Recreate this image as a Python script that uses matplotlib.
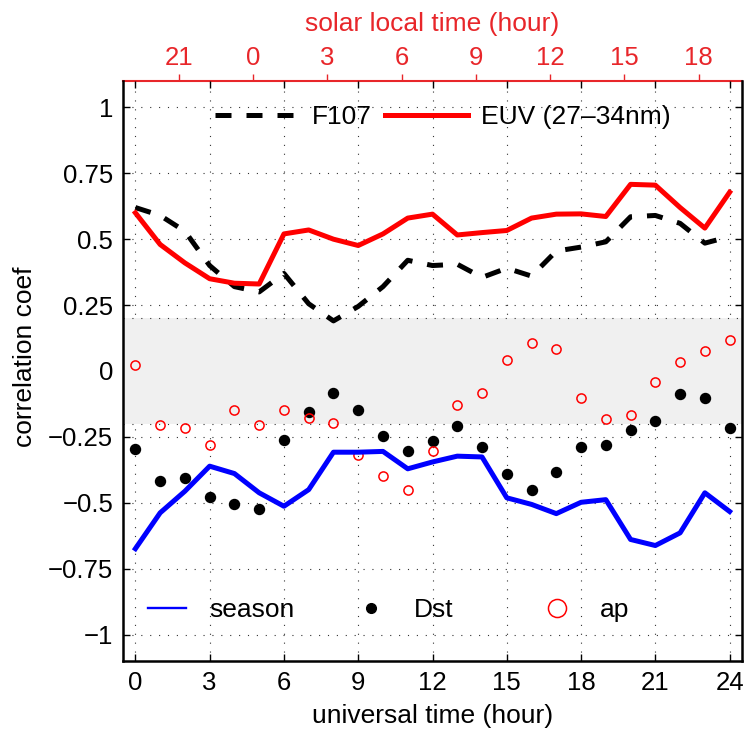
import numpy as np
import matplotlib
matplotlib.use("Agg")
import matplotlib.pyplot as plt
from matplotlib.lines import Line2D
from matplotlib.legend import Legend

plt.rcParams['font.family'] = ['Liberation Sans', 'DejaVu Sans']
FS = 18.5

# Universal time (hours) and correlation coefficients
ut = np.arange(25)
f107 = [0.62, 0.59, 0.53, 0.40, 0.32, 0.30, 0.37, 0.255, 0.19, 0.245, 0.32, 0.42, 0.40,
        0.405, 0.355, 0.39, 0.36, 0.455, 0.47, 0.49, 0.585, 0.59, 0.56, 0.485, 0.51]
euv = [0.60, 0.48, 0.41, 0.35, 0.333, 0.33, 0.52, 0.535, 0.50, 0.476, 0.52, 0.58, 0.595,
       0.516, 0.525, 0.533, 0.58, 0.595, 0.596, 0.586, 0.708, 0.705, 0.62, 0.542, 0.678]
season = [-0.674, -0.538, -0.456, -0.361, -0.389, -0.462, -0.513, -0.45, -0.308, -0.308,
          -0.305, -0.371, -0.345, -0.323, -0.326, -0.481, -0.506, -0.541, -0.498, -0.488,
          -0.639, -0.662, -0.614, -0.462, -0.533]
dst = [-0.295, -0.418, -0.405, -0.479, -0.503, -0.525, -0.26, -0.157, -0.083, -0.149,
       -0.248, -0.302, -0.267, -0.207, -0.289, -0.392, -0.453, -0.383, -0.289, -0.282,
       -0.222, -0.188, -0.089, -0.104, -0.216]
ap = [0.021, -0.205, -0.215, -0.282, -0.148, -0.205, -0.148, -0.177, -0.197, -0.317,
      -0.397, -0.45, -0.302, -0.130, -0.085, 0.043, 0.106, 0.083, -0.101, -0.182,
      -0.168, -0.04, 0.033, 0.074, 0.117]

ut_ticks = [0, 3, 6, 9, 12, 15, 18, 21, 24]
y_ticks = [-1, -0.75, -0.5, -0.25, 0, 0.25, 0.5, 0.75, 1]
y_labels = ['\u22121', '\u22120.75', '\u22120.5', '\u22120.25', '0', '0.25', '0.5', '0.75', '1']
slt_offset = -4.75          # solar local time = UT + offset
slt_ticks = [-3, 0, 3, 6, 9, 12, 15, 18]
slt_labels = ['21', '0', '3', '6', '9', '12', '15', '18']
band = 0.2

fig = plt.figure(figsize=(7.45, 7.36), dpi=100)
ax = fig.add_axes([123 / 745, 1 - 661 / 736, (742 - 123) / 745, (661 - 81) / 736])

ax.set_xlim(-0.5, 24.5)
ax.set_ylim(-1.1, 1.1)
ax.set_axisbelow(True)
ax.grid(True, color='#333333', linestyle=(0, (1, 7)), linewidth=0.8)

# insignificance band
ax.axhspan(-band, band, facecolor='#f0f0f0', edgecolor='none', zorder=1)
for yb in (-band, band):
    ax.axhline(yb, color='#333333', linestyle=(0, (1, 7)), linewidth=0.8, zorder=1.1)

ax.plot(ut, dst, 'o', color='k', markersize=7.2, zorder=3)
ax.plot(ut, ap, 'o', mfc='none', mec='red', mew=1.1, markersize=6.6, zorder=4)
ax.plot(ut, season, '-', color='blue', lw=3.6, zorder=5)
l_f107, = ax.plot(ut, f107, color='k', lw=3.6, dashes=(3.2, 3.0), dash_capstyle='butt',
                  zorder=5, label='F107')
l_euv, = ax.plot(ut, euv, color='red', lw=3.6, zorder=6, label='EUV (27\u201334nm)')

ax.set_xticks(ut_ticks)
ax.set_yticks(y_ticks, y_labels)
ax.tick_params(axis='both', direction='in', length=5, width=1, labelsize=FS,
               top=True, right=True)
ax.tick_params(axis='x', pad=7)
ax.tick_params(axis='y', pad=7)
for s in ('left', 'bottom', 'right'):
    ax.spines[s].set_linewidth(1.8)
ax.spines['top'].set_visible(False)

ax.set_xlabel('universal time (hour)', fontsize=FS + 0.5, labelpad=7)
ax.set_ylabel('correlation coef', fontsize=FS + 0.5)
ax.yaxis.set_label_coords(-0.139, 0.525)

# solar local time axis on top
sec = ax.secondary_xaxis('top', functions=(lambda x: x + slt_offset, lambda x: x - slt_offset))
sec.set_xticks(slt_ticks, slt_labels)
sec.tick_params(axis='x', direction='out', length=5, width=1, colors='#e8262a',
                labelsize=FS, pad=3)
sec.spines['top'].set_color('#e8262a')
sec.spines['top'].set_linewidth(1.5)
sec.set_xlabel('solar local time (hour)', color='#e8262a', fontsize=FS + 0.5, labelpad=11)

# solar-flux legend
leg1 = Legend(ax, [l_f107, l_euv], ['F107', 'EUV (27\u201334nm)'], loc='center left',
              bbox_to_anchor=(0.149, 0.938), ncol=2, frameon=False, fontsize=FS + 0.5,
              handlelength=3.15, handletextpad=0.5, columnspacing=0.5, borderpad=0,
              borderaxespad=0)
ax.add_artist(leg1)

# season / geomagnetic legend entries
h_season = Line2D([], [], color='blue', lw=1.7)
h_dst = Line2D([], [], marker='o', ls='none', color='k', markersize=7)
h_ap = Line2D([], [], marker='o', ls='none', mfc='none', mec='red', mew=1.1, markersize=13)
for h, lab, x0 in [(h_season, 'season', 0.040), (h_dst, 'Dst', 0.370), (h_ap, 'ap', 0.670)]:
    lg = Legend(ax, [h], [lab], loc='center left', bbox_to_anchor=(x0, 0.088),
                frameon=False, fontsize=FS + 0.5, handlelength=1.45, handletextpad=0.9,
                borderpad=0, borderaxespad=0)
    ax.add_artist(lg)

fig.savefig('out.png', dpi=100)
